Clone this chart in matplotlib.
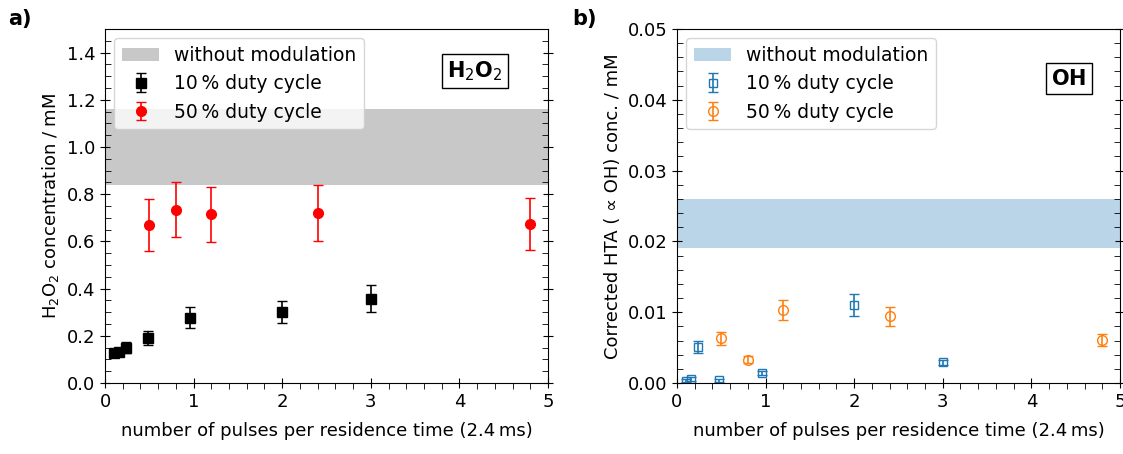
import matplotlib
matplotlib.use('Agg')
from matplotlib import pyplot as plt
from matplotlib.ticker import AutoMinorLocator, MultipleLocator

# H2O2, panel a)
h2o2_10_x = [0.1, 0.16, 0.24, 0.48, 0.96, 2.0, 3.0]
h2o2_10_y = [0.126, 0.13, 0.15, 0.19, 0.277, 0.30, 0.357]
h2o2_10_err = [0.015, 0.015, 0.025, 0.031, 0.045, 0.047, 0.058]
h2o2_50_x = [0.5, 0.8, 1.2, 2.4, 4.8]
h2o2_50_y = [0.67, 0.734, 0.714, 0.72, 0.673]
h2o2_50_err = [0.109, 0.117, 0.115, 0.117, 0.109]
h2o2_band = (0.84, 1.16)

# OH, panel b)
oh_10_x = [0.1, 0.16, 0.24, 0.48, 0.96, 2.0, 3.0]
oh_10_y = [0.0003, 0.0006, 0.0051, 0.0004, 0.0014, 0.011, 0.0029]
oh_10_err = [0.0002, 0.0003, 0.0008, 0.0002, 0.0003, 0.0016, 0.0003]
oh_50_x = [0.5, 0.8, 1.2, 2.4, 4.8]
oh_50_y = [0.0063, 0.0033, 0.0103, 0.0094, 0.0061]
oh_50_err = [0.00094, 0.0005, 0.00146, 0.00137, 0.00087]
oh_band = (0.019, 0.026)

plt.rcParams['font.size'] = 13

fig = plt.figure(figsize=(11.23, 4.54), dpi=100)
ax1 = fig.add_axes([0.0935, 0.1564, 0.3945, 0.7797])
ax2 = fig.add_axes([0.6028, 0.1564, 0.3945, 0.7797])


def style_axis(ax):
    ax.set_xlim(0, 5)
    ax.xaxis.set_major_locator(MultipleLocator(1))
    ax.xaxis.set_minor_locator(AutoMinorLocator(5))
    ax.tick_params(which='major', direction='inout', length=7, right=True)
    ax.tick_params(which='minor', direction='in', length=4, right=True)
    ax.tick_params(axis='x', which='minor', direction='out')
    ax.set_xlabel('number of pulses per residence time (2.4\u2009ms)', labelpad=8)


# panel a
ax1.axhspan(*h2o2_band, color='#c8c8c8', lw=0, label='without modulation')
ax1.errorbar(h2o2_10_x, h2o2_10_y, yerr=h2o2_10_err, fmt='s', color='black',
             ms=7, capsize=3.5, elinewidth=1.2, label='10\u2009% duty cycle')
ax1.errorbar(h2o2_50_x, h2o2_50_y, yerr=h2o2_50_err, fmt='o', color='red',
             ms=7, capsize=3.5, elinewidth=1.2, label='50\u2009% duty cycle')
ax1.set_ylim(0, 1.5)
ax1.yaxis.set_minor_locator(AutoMinorLocator(4))
ax1.set_yticks([0, 0.2, 0.4, 0.6, 0.8, 1.0, 1.2, 1.4])
ax1.set_yticklabels(['0.0', '0.2', '0.4', '0.6', '0.8', '1.0', '1.2', '1.4'])
style_axis(ax1)
ax1.set_ylabel('H$_2$O$_2$ concentration / mM')
ax1.legend(loc='upper left', fontsize=13.5)
ax1.text(0.835, 0.88, r'$\mathbf{H}_2\mathbf{O}_2$', transform=ax1.transAxes,
         fontsize=15, ha='center', va='center',
         bbox=dict(boxstyle='square,pad=0.25', fc='white', ec='black', lw=1))
fig.text(0.007, 0.945, 'a)', fontsize=15, fontweight='bold')

# panel b
ax2.axhspan(*oh_band, color='tab:blue', alpha=0.3, lw=0, label='without modulation')
ax2.errorbar(oh_10_x, oh_10_y, yerr=oh_10_err, fmt='s', color='tab:blue',
             mfc='none', ms=6, capsize=3.5, elinewidth=1.2, label='10\u2009% duty cycle')
ax2.errorbar(oh_50_x, oh_50_y, yerr=oh_50_err, fmt='o', color='tab:orange',
             mfc='none', ms=7, capsize=3.5, elinewidth=1.2, label='50\u2009% duty cycle')
ax2.set_ylim(0, 0.05)
ax2.yaxis.set_major_locator(MultipleLocator(0.01))
ax2.yaxis.set_minor_locator(AutoMinorLocator(5))
ax2.yaxis.set_major_formatter(plt.FormatStrFormatter('%.2f'))
style_axis(ax2)
ax2.set_ylabel('Corrected HTA ( \u221d OH) conc. / mM')
ax2.legend(loc='upper left', fontsize=13.5)
ax2.text(0.885, 0.86, r'$\mathbf{OH}$', transform=ax2.transAxes,
         fontsize=15, ha='center', va='center',
         bbox=dict(boxstyle='square,pad=0.25', fc='white', ec='black', lw=1))
fig.text(0.51, 0.945, 'b)', fontsize=15, fontweight='bold')

fig.savefig('out.png', dpi=100)
